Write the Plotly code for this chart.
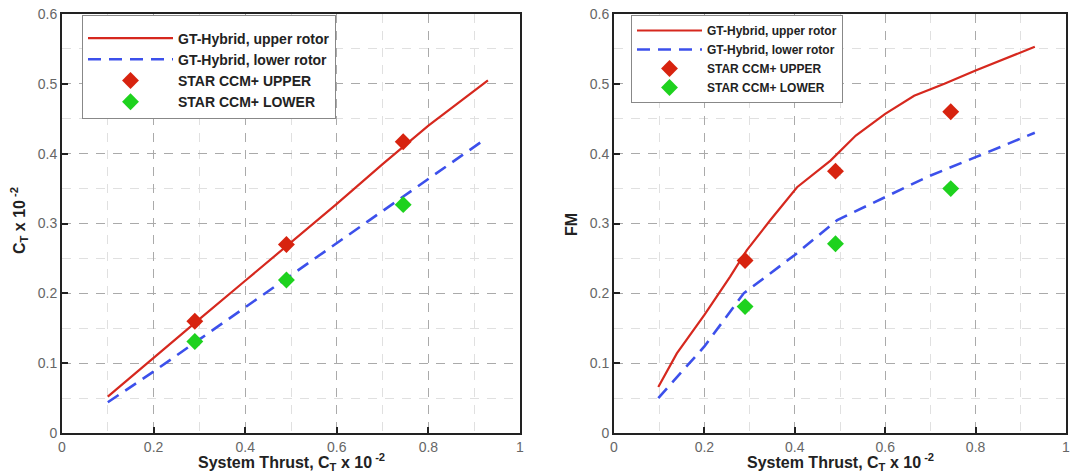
import plotly.graph_objects as go

# ---- data (left panel: rotor thrust coefficient) ----
ct_x_upper_line = [0.1, 0.2, 0.3, 0.4, 0.5, 0.6, 0.7, 0.8, 0.93]
ct_y_upper_line = [0.052, 0.108, 0.163, 0.218, 0.273, 0.328, 0.385, 0.44, 0.505]
ct_x_lower_line = [0.1, 0.2, 0.3, 0.4, 0.5, 0.6, 0.7, 0.8, 0.92]
ct_y_lower_line = [0.044, 0.088, 0.134, 0.18, 0.226, 0.272, 0.318, 0.364, 0.419]
cfd_x = [0.29, 0.49, 0.745]
ct_cfd_upper = [0.16, 0.27, 0.417]
ct_cfd_lower = [0.131, 0.219, 0.327]

# ---- data (right panel: figure of merit) ----
fm_x_upper_line = [0.098, 0.139, 0.2, 0.257, 0.294, 0.346, 0.405, 0.479, 0.535, 0.6, 0.664, 0.731, 0.8, 0.931]
fm_y_upper_line = [0.066, 0.114, 0.169, 0.224, 0.262, 0.305, 0.352, 0.39, 0.426, 0.457, 0.483, 0.5, 0.519, 0.553]
fm_x_lower_line = [0.098, 0.2, 0.287, 0.4, 0.494, 0.6, 0.694, 0.8, 0.931]
fm_y_lower_line = [0.05, 0.124, 0.2, 0.255, 0.305, 0.338, 0.367, 0.395, 0.43]
fm_cfd_upper = [0.247, 0.375, 0.46]
fm_cfd_lower = [0.181, 0.271, 0.35]

names = ["GT-Hybrid, upper rotor", "GT-Hybrid, lower rotor", "STAR CCM+ UPPER", "STAR CCM+ LOWER"]
x_ticks = [0, 0.2, 0.4, 0.6, 0.8, 1]
x_ticklabels = ["0", "0.2", "0.4", "0.6", "0.8", "1"]
y_ticks = [0, 0.1, 0.2, 0.3, 0.4, 0.5, 0.6]
y_ticklabels = ["0", "0.1", "0.2", "0.3", "0.4", "0.5", "0.6"]
x_title = "<b>System Thrust, C<sub>T</sub> x 10<sup> -2</sup></b>"
y_title_left = "<b>C<sub>T</sub> x 10<sup> -2</sup></b>"
y_title_right = "<b>FM</b>"

RED = "rgb(214,40,30)"
BLUE = "rgb(60,80,235)"
GREEN = "rgb(30,210,30)"
MRED = "rgb(215,35,15)"
FONT = "Arial, Liberation Sans, sans-serif"

fig = go.Figure()

def add_panel(xa, ya, leg, xu, yu, xl, yl, cu, cl):
    fig.add_trace(go.Scatter(x=xu, y=yu, mode="lines", name=names[0], xaxis=xa, yaxis=ya,
                             legend=leg, line=dict(color=RED, width=2.2)))
    fig.add_trace(go.Scatter(x=xl, y=yl, mode="lines", name=names[1], xaxis=xa, yaxis=ya,
                             legend=leg, line=dict(color=BLUE, width=2.6, dash="13px,8px")))
    fig.add_trace(go.Scatter(x=cfd_x, y=cu, mode="markers", name=names[2], xaxis=xa, yaxis=ya,
                             legend=leg, marker=dict(symbol="diamond", size=13, color=MRED)))
    fig.add_trace(go.Scatter(x=cfd_x, y=cl, mode="markers", name=names[3], xaxis=xa, yaxis=ya,
                             legend=leg, marker=dict(symbol="diamond", size=13, color=GREEN)))

add_panel("x", "y", "legend", ct_x_upper_line, ct_y_upper_line, ct_x_lower_line, ct_y_lower_line,
          ct_cfd_upper, ct_cfd_lower)
add_panel("x2", "y2", "legend2", fm_x_upper_line, fm_y_upper_line, fm_x_lower_line, fm_y_lower_line,
          fm_cfd_upper, fm_cfd_lower)

tickfont = dict(family=FONT, size=14, color="#666")
titlefont = dict(family=FONT, size=16, color="#222")

def xaxis_cfg(domain, anchor):
    return dict(domain=domain, anchor=anchor, range=[0, 1], tickvals=x_ticks, ticktext=x_ticklabels,
                showline=True, linecolor="#222", linewidth=2, mirror=True, automargin=False,
                ticks="inside", ticklen=6, tickcolor="#222", tickwidth=1.5,
                showgrid=True, gridcolor="#aaa", gridwidth=1, griddash="9px,8px",
                minor=dict(dtick=0.1, showgrid=True, gridcolor="#e0e0e0", gridwidth=1, ticks=""),
                zeroline=False, tickfont=tickfont)

def yaxis_cfg(domain, anchor):
    return dict(domain=domain, anchor=anchor, range=[0, 0.6], tickvals=y_ticks, ticktext=y_ticklabels,
                showline=True, linecolor="#222", linewidth=2, mirror=True, automargin=False,
                ticks="inside", ticklen=6, tickcolor="#222", tickwidth=1.5,
                showgrid=True, gridcolor="#aaa", gridwidth=1, griddash="9px,8px",
                minor=dict(dtick=0.05, showgrid=True, gridcolor="#e0e0e0", gridwidth=1, ticks=""),
                zeroline=False, tickfont=tickfont)

W, H = 1076, 475
xdom1 = [62 / W, 520 / W]
xdom2 = [614 / W, 1066 / W]
ydom = [1 - 433 / H, 1 - 14 / H]

annotations = [
    dict(text=x_title, x=sum(xdom1) / 2, y=1 - 462 / H, xref="paper", yref="paper",
         xanchor="center", yanchor="middle", showarrow=False, font=titlefont),
    dict(text=x_title, x=sum(xdom2) / 2, y=1 - 462 / H, xref="paper", yref="paper",
         xanchor="center", yanchor="middle", showarrow=False, font=titlefont),
    dict(text=y_title_left, x=19 / W, y=1 - 221 / H, xref="paper", yref="paper", textangle=-90,
         xanchor="center", yanchor="middle", showarrow=False, font=titlefont),
    dict(text=y_title_right, x=572 / W, y=1 - 225 / H, xref="paper", yref="paper", textangle=-90,
         xanchor="center", yanchor="middle", showarrow=False, font=titlefont),
]

fig.update_layout(
    width=W, height=H,
    margin=dict(l=0, r=0, t=0, b=0),
    paper_bgcolor="white", plot_bgcolor="white",
    showlegend=True,
    xaxis=xaxis_cfg(xdom1, "y"),
    yaxis=yaxis_cfg(ydom, "x"),
    xaxis2=xaxis_cfg(xdom2, "y2"),
    yaxis2=yaxis_cfg(ydom, "x2"),
    annotations=annotations,
    legend=dict(x=82 / W, y=1 - 15 / H, xanchor="left", yanchor="top",
                bgcolor="white", bordercolor="#888", borderwidth=1,
                font=dict(family=FONT, size=14, color="#222", weight="bold"),
                title=dict(text=" ", font=dict(size=5)),
                itemwidth=85, tracegroupgap=0),
    legend2=dict(x=631 / W, y=1 - 15 / H, xanchor="left", yanchor="top",
                 bgcolor="white", bordercolor="#888", borderwidth=1,
                 font=dict(family=FONT, size=12, color="#222", weight="bold"),
                 itemwidth=65, tracegroupgap=0),
)

fig.write_html("out.html")
